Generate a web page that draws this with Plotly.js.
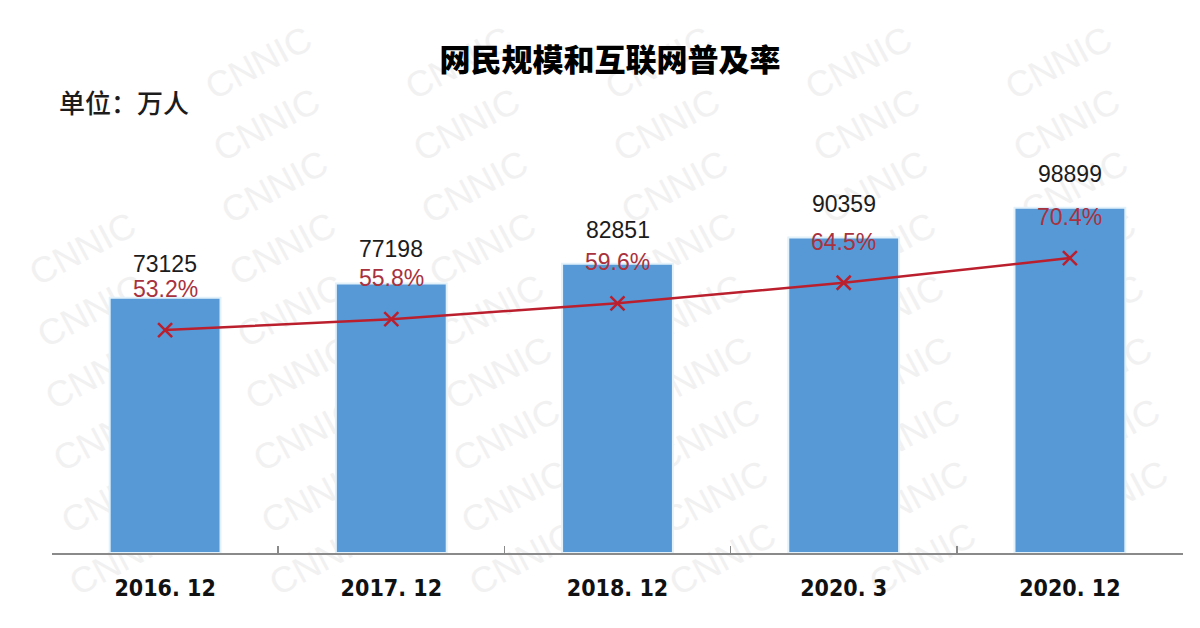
<!DOCTYPE html>
<html>
<head>
<meta charset="utf-8">
<script src="https://cdn.plot.ly/plotly-3.0.1.min.js"></script>
<style>
  html, body { margin: 0; padding: 0; background: #ffffff; }
  #chart { width: 1200px; height: 628px; }
</style>
</head>
<body>
<div id="chart"></div>
<script>
// Survey periods
const periods = ['2016. 12', '2017. 12', '2018. 12', '2020. 3', '2020. 12'];
// Number of internet users (10k people)
const netizens = [73125, 77198, 82851, 90359, 98899];
// Internet penetration rate (%)
const penetration = [53.2, 55.8, 59.6, 64.5, 70.4];

const W = 1200, H = 628;
const M = { l: 52, r: 17, t: 134, b: 75 };
const plotW = W - M.l - M.r, plotH = H - M.t - M.b;

const CJK = '"Noto Sans CJK SC", "Noto Sans", sans-serif';
const ARIAL = '"Liberation Sans", Arial, sans-serif';
const NARROW = '"DejaVu Sans Condensed", "Liberation Sans", sans-serif';

const barTrace = {
  type: 'bar',
  x: periods,
  y: netizens,
  width: 0.49,
  marker: { color: '#5699d6', line: { color: '#e2f1fa', width: 2 } },
  hoverinfo: 'none'
};

const rateTrace = {
  type: 'scatter',
  mode: 'lines+markers',
  x: periods,
  y: penetration,
  yaxis: 'y2',
  line: { color: '#bb1f2e', width: 2.5 },
  marker: { symbol: 'x-thin', size: 14, line: { color: '#bb1f2e', width: 2.5 } },
  hoverinfo: 'none'
};

const annotations = [];
netizens.forEach((v, i) => {
  annotations.push({
    x: periods[i], y: v, xref: 'x', yref: 'y',
    yshift: 34, showarrow: false, text: String(v),
    font: { family: ARIAL, size: 23, color: '#1c1c1c' }
  });
});
penetration.forEach((v, i) => {
  annotations.push({
    x: periods[i], y: v, xref: 'x', yref: 'y2',
    yshift: 41, showarrow: false, text: v.toFixed(1) + '%',
    font: { family: ARIAL, size: 23, color: '#a8323e' }
  });
});
// unit note above the plot
annotations.push({
  xref: 'paper', yref: 'paper',
  x: (57 - M.l) / plotW, y: (H - M.b - 102) / plotH,
  xanchor: 'left', yanchor: 'middle', showarrow: false,
  text: '单位：万人',
  font: { family: CJK, size: 26, color: '#1c1c1c', weight: 500 }
});

// faint tiled "CNNIC" watermark, kept beneath the bars
const shapes = [];
for (let r = -2; r <= 8; r++) {
  const cy = 122 + 62 * r;
  for (let c = -1; c <= 6; c++) {
    const cx = 65 + 8 * r + 200 * c;
    if (cx < 80 || cx > W - 80 || cy < 45 || cy > H - 45) continue;
    const px = (cx - M.l) / plotW, py = (H - M.b - cy) / plotH;
    shapes.push({
      type: 'rect', xref: 'paper', yref: 'paper', layer: 'below',
      x0: px - 0.001, x1: px + 0.001, y0: py - 0.001, y1: py + 0.001,
      line: { width: 0 }, fillcolor: 'rgba(0,0,0,0)',
      label: {
        text: 'CNNIC', textangle: -28, textposition: 'middle center',
        font: { family: ARIAL, size: 36, color: '#f1f1f1' }
      }
    });
  }
}

const layout = {
  width: W, height: H,
  margin: M,
  paper_bgcolor: '#ffffff',
  plot_bgcolor: 'rgba(0,0,0,0)',
  showlegend: false,
  title: {
    text: '网民规模和互联网普及率',
    x: 610 / W, xanchor: 'center', xref: 'container',
    y: 1 - 60 / H, yanchor: 'middle', yref: 'container',
    font: { family: CJK, size: 31, color: '#000000', weight: 900 }
  },
  xaxis: {
    type: 'category',
    range: [-0.5, periods.length - 0.5],
    tickson: 'boundaries',
    ticks: 'inside', ticklen: 7, tickwidth: 1.5, tickcolor: '#8a8a8a',
    showline: true, linecolor: '#8a8a8a', linewidth: 1.5,
    showgrid: false, zeroline: false,
    ticklabelstandoff: 14,
    tickfont: { family: NARROW, size: 23, color: '#111111', weight: 'bold' }
  },
  yaxis: {
    range: [0, 120000],
    visible: false, showgrid: false, zeroline: false
  },
  yaxis2: {
    range: [0, 100],
    overlaying: 'y', side: 'right',
    visible: false, showgrid: false, zeroline: false
  },
  annotations: annotations,
  shapes: shapes
};

Plotly.newPlot('chart', [barTrace, rateTrace], layout, { staticPlot: true, displayModeBar: false });
</script>
</body>
</html>
